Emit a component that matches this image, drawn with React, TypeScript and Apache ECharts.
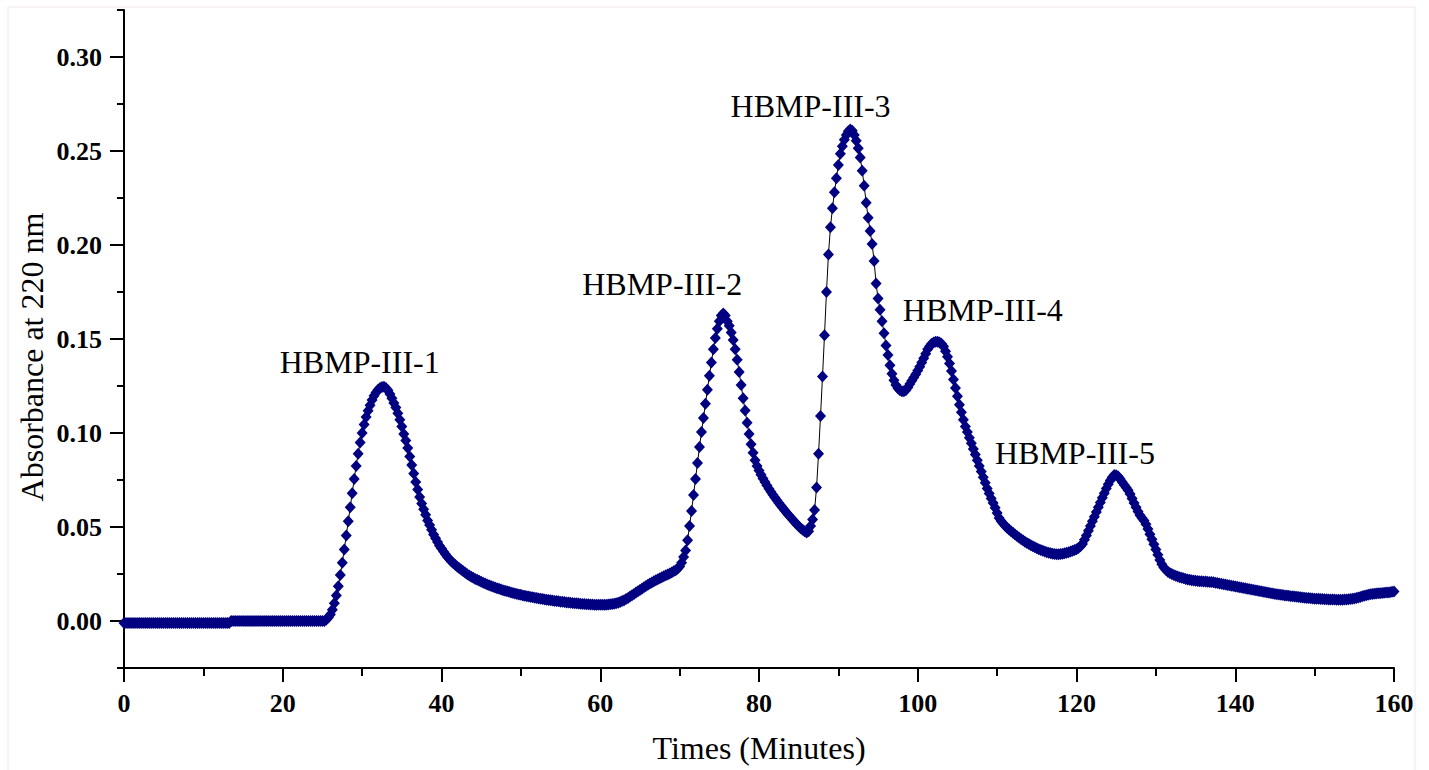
import React, { useEffect, useRef } from "react";
import * as echarts from "echarts";

const FONT = "'Liberation Serif', 'Times New Roman', serif";

// Sampling interval of the chromatogram (minutes)
const SAMPLE_STEP_MIN = 0.25;

// Absorbance at 220 nm, one line per minute (4 samples per minute)
const absorbance: number[] = [
  /*0*/ -0.001, -0.001, -0.001, -0.001,
  /*1*/ -0.001, -0.001, -0.001, -0.001,
  /*2*/ -0.001, -0.001, -0.001, -0.001,
  /*3*/ -0.001, -0.001, -0.001, -0.001,
  /*4*/ -0.001, -0.001, -0.001, -0.001,
  /*5*/ -0.001, -0.001, -0.001, -0.001,
  /*6*/ -0.001, -0.001, -0.001, -0.001,
  /*7*/ -0.001, -0.001, -0.001, -0.001,
  /*8*/ -0.001, -0.001, -0.001, -0.001,
  /*9*/ -0.001, -0.001, -0.001, -0.001,
  /*10*/ -0.001, -0.001, -0.001, -0.001,
  /*11*/ -0.001, -0.001, -0.001, -0.001,
  /*12*/ -0.001, -0.001, -0.001, -0.001,
  /*13*/ -0.001, -0.001, 0.0, 0.0,
  /*14*/ 0.0, 0.0, 0.0, 0.0,
  /*15*/ 0.0, 0.0, 0.0, 0.0,
  /*16*/ 0.0, 0.0, 0.0, 0.0,
  /*17*/ 0.0, 0.0, 0.0, 0.0,
  /*18*/ 0.0, 0.0, 0.0, 0.0,
  /*19*/ 0.0, 0.0, 0.0, 0.0,
  /*20*/ 0.0, 0.0, 0.0, 0.0,
  /*21*/ 0.0, 0.0, 0.0, 0.0,
  /*22*/ 0.0, 0.0, 0.0, 0.0,
  /*23*/ 0.0, 0.0, 0.0, 0.0,
  /*24*/ 0.0, 0.0, 0.0, 0.0,
  /*25*/ 0.0, 0.0, 0.0008, 0.0018,
  /*26*/ 0.0035, 0.006, 0.0095, 0.0135,
  /*27*/ 0.0185, 0.0245, 0.031, 0.038,
  /*28*/ 0.0455, 0.053, 0.0605, 0.068,
  /*29*/ 0.0755, 0.0825, 0.089, 0.095,
  /*30*/ 0.1, 0.1045, 0.1085, 0.1118,
  /*31*/ 0.1148, 0.1175, 0.1198, 0.1216,
  /*32*/ 0.123, 0.124, 0.1245, 0.1246,
  /*33*/ 0.124, 0.1228, 0.1208, 0.1185,
  /*34*/ 0.116, 0.1135, 0.1105, 0.107,
  /*35*/ 0.1035, 0.0995, 0.096, 0.092,
  /*36*/ 0.0875, 0.083, 0.0785, 0.074,
  /*37*/ 0.07, 0.066, 0.0625, 0.0595,
  /*38*/ 0.0565, 0.0535, 0.051, 0.0485,
  /*39*/ 0.046, 0.044, 0.042, 0.04,
  /*40*/ 0.0385, 0.037, 0.0355, 0.034,
  /*41*/ 0.0328, 0.0317, 0.0307, 0.0298,
  /*42*/ 0.0288, 0.028, 0.0272, 0.0264,
  /*43*/ 0.0256, 0.0249, 0.0242, 0.0236,
  /*44*/ 0.023, 0.0224, 0.0219, 0.0214,
  /*45*/ 0.0209, 0.0204, 0.0199, 0.0194,
  /*46*/ 0.019, 0.0186, 0.0182, 0.0178,
  /*47*/ 0.0174, 0.0171, 0.0167, 0.0164,
  /*48*/ 0.0161, 0.0158, 0.0155, 0.0152,
  /*49*/ 0.0149, 0.0146, 0.0144, 0.0141,
  /*50*/ 0.0139, 0.0136, 0.0134, 0.0132,
  /*51*/ 0.013, 0.0128, 0.0126, 0.0124,
  /*52*/ 0.0122, 0.012, 0.0118, 0.0117,
  /*53*/ 0.0115, 0.0113, 0.0112, 0.011,
  /*54*/ 0.0109, 0.0107, 0.0106, 0.0105,
  /*55*/ 0.0103, 0.0102, 0.0101, 0.0099,
  /*56*/ 0.0098, 0.0097, 0.0096, 0.0095,
  /*57*/ 0.0094, 0.0093, 0.0092, 0.0091,
  /*58*/ 0.009, 0.0089, 0.0089, 0.0088,
  /*59*/ 0.0088, 0.0087, 0.0087, 0.0087,
  /*60*/ 0.0087, 0.0087, 0.0087, 0.0087,
  /*61*/ 0.0088, 0.0089, 0.009, 0.0092,
  /*62*/ 0.0094, 0.0097, 0.0101, 0.0106,
  /*63*/ 0.0111, 0.0117, 0.0123, 0.013,
  /*64*/ 0.0137, 0.0144, 0.0151, 0.0158,
  /*65*/ 0.0165, 0.0172, 0.0179, 0.0186,
  /*66*/ 0.0193, 0.0199, 0.0205, 0.0211,
  /*67*/ 0.0217, 0.0222, 0.0228, 0.0233,
  /*68*/ 0.0238, 0.0243, 0.0248, 0.0253,
  /*69*/ 0.0258, 0.0264, 0.027, 0.0278,
  /*70*/ 0.029, 0.031, 0.034, 0.0375,
  /*71*/ 0.043, 0.0505, 0.0585, 0.067,
  /*72*/ 0.0755, 0.084, 0.0925, 0.1005,
  /*73*/ 0.108, 0.1155, 0.123, 0.1305,
  /*74*/ 0.1375, 0.1445, 0.1505, 0.1555,
  /*75*/ 0.1595, 0.1625, 0.1635, 0.1625,
  /*76*/ 0.1595, 0.157, 0.1535, 0.1495,
  /*77*/ 0.1445, 0.139, 0.1325, 0.1255,
  /*78*/ 0.1185, 0.112, 0.1055, 0.0995,
  /*79*/ 0.094, 0.0895, 0.0855, 0.0825,
  /*80*/ 0.08, 0.0778, 0.0758, 0.0739,
  /*81*/ 0.0721, 0.0704, 0.0688, 0.0672,
  /*82*/ 0.0657, 0.0642, 0.0628, 0.0614,
  /*83*/ 0.0601, 0.0588, 0.0575, 0.0562,
  /*84*/ 0.055, 0.0538, 0.0526, 0.0515,
  /*85*/ 0.0504, 0.0494, 0.0485, 0.0477,
  /*86*/ 0.0471, 0.0478, 0.0505, 0.054,
  /*87*/ 0.059, 0.071, 0.089, 0.109,
  /*88*/ 0.13, 0.152, 0.175, 0.195,
  /*89*/ 0.2095, 0.2195, 0.228, 0.2355,
  /*90*/ 0.2425, 0.2485, 0.2525, 0.256,
  /*91*/ 0.2585, 0.2605, 0.2615, 0.2608,
  /*92*/ 0.2585, 0.2555, 0.2515, 0.2465,
  /*93*/ 0.2395, 0.2315, 0.2225, 0.2145,
  /*94*/ 0.2075, 0.2005, 0.1915, 0.1795,
  /*95*/ 0.1715, 0.1655, 0.1595, 0.153,
  /*96*/ 0.1465, 0.1415, 0.136, 0.1315,
  /*97*/ 0.128, 0.1255, 0.1238, 0.1228,
  /*98*/ 0.1222, 0.1222, 0.1228, 0.1242,
  /*99*/ 0.126, 0.1278, 0.1295, 0.1313,
  /*100*/ 0.1332, 0.1352, 0.1375, 0.1398,
  /*101*/ 0.1422, 0.1445, 0.1462, 0.1475,
  /*102*/ 0.1482, 0.1485, 0.1485, 0.1482,
  /*103*/ 0.1475, 0.146, 0.1435, 0.1405,
  /*104*/ 0.137, 0.133, 0.1285, 0.124,
  /*105*/ 0.1195, 0.115, 0.111, 0.107,
  /*106*/ 0.1035, 0.1005, 0.0975, 0.0945,
  /*107*/ 0.0915, 0.0885, 0.0855, 0.0825,
  /*108*/ 0.0795, 0.0765, 0.0735, 0.0705,
  /*109*/ 0.0678, 0.0652, 0.0628, 0.0602,
  /*110*/ 0.0575, 0.0548, 0.0532, 0.0518,
  /*111*/ 0.0506, 0.0496, 0.0487, 0.0478,
  /*112*/ 0.0469, 0.046, 0.0452, 0.0444,
  /*113*/ 0.0436, 0.0429, 0.0422, 0.0415,
  /*114*/ 0.0409, 0.0403, 0.0397, 0.0392,
  /*115*/ 0.0387, 0.0382, 0.0378, 0.0374,
  /*116*/ 0.037, 0.0366, 0.0363, 0.036,
  /*117*/ 0.0358, 0.0356, 0.0355, 0.0355,
  /*118*/ 0.0356, 0.0358, 0.036, 0.0363,
  /*119*/ 0.0366, 0.037, 0.0374, 0.0378,
  /*120*/ 0.0382, 0.0388, 0.0398, 0.041,
  /*121*/ 0.0432, 0.0455, 0.048, 0.0505,
  /*122*/ 0.053, 0.0555, 0.058, 0.0605,
  /*123*/ 0.063, 0.0655, 0.068, 0.0705,
  /*124*/ 0.0728, 0.0748, 0.0765, 0.0776,
  /*125*/ 0.0775, 0.0768, 0.0755, 0.074,
  /*126*/ 0.0725, 0.071, 0.0695, 0.0675,
  /*127*/ 0.0652, 0.0628, 0.0605, 0.0583,
  /*128*/ 0.0562, 0.0548, 0.0535, 0.0515,
  /*129*/ 0.049, 0.0462, 0.0435, 0.0408,
  /*130*/ 0.038, 0.0352, 0.0325, 0.0302,
  /*131*/ 0.0285, 0.0272, 0.0262, 0.0255,
  /*132*/ 0.025, 0.0245, 0.0241, 0.0237,
  /*133*/ 0.0233, 0.023, 0.0227, 0.0224,
  /*134*/ 0.0221, 0.0219, 0.0217, 0.0215,
  /*135*/ 0.0214, 0.0213, 0.0212, 0.0211,
  /*136*/ 0.021, 0.021, 0.0209, 0.0208,
  /*137*/ 0.0207, 0.0206, 0.0204, 0.0202,
  /*138*/ 0.02, 0.0198, 0.0196, 0.0194,
  /*139*/ 0.0192, 0.019, 0.0188, 0.0186,
  /*140*/ 0.0184, 0.0182, 0.018, 0.0178,
  /*141*/ 0.0176, 0.0174, 0.0172, 0.017,
  /*142*/ 0.0168, 0.0166, 0.0164, 0.0162,
  /*143*/ 0.016, 0.0158, 0.0156, 0.0154,
  /*144*/ 0.0152, 0.015, 0.0148, 0.0146,
  /*145*/ 0.0144, 0.0142, 0.0141, 0.0139,
  /*146*/ 0.0138, 0.0136, 0.0135, 0.0134,
  /*147*/ 0.0132, 0.0131, 0.013, 0.0129,
  /*148*/ 0.0127, 0.0126, 0.0125, 0.0124,
  /*149*/ 0.0123, 0.0122, 0.0121, 0.012,
  /*150*/ 0.0119, 0.0119, 0.0118, 0.0117,
  /*151*/ 0.0117, 0.0116, 0.0116, 0.0115,
  /*152*/ 0.0115, 0.0114, 0.0114, 0.0113,
  /*153*/ 0.0113, 0.0113, 0.0113, 0.0114,
  /*154*/ 0.0115, 0.0116, 0.0117, 0.0118,
  /*155*/ 0.012, 0.0122, 0.0125, 0.0128,
  /*156*/ 0.0131, 0.0134, 0.0137, 0.014,
  /*157*/ 0.0142, 0.0144, 0.0145, 0.0146,
  /*158*/ 0.0147, 0.0148, 0.0149, 0.015,
  /*159*/ 0.0151, 0.0152, 0.0153, 0.0155,
  /*160*/ 0.0157,
];

// Peak annotations (position in data units: minutes, absorbance)
const peakNames = ["HBMP-III-1", "HBMP-III-2", "HBMP-III-3", "HBMP-III-4", "HBMP-III-5"];
const peakLabelTimes = [29.7, 67.8, 86.5, 108.2, 119.8];
const peakLabelValues = [0.1378, 0.179, 0.274, 0.1654, 0.0894];

// Axis ticks
const xMin = 0;
const xMax = 160;
const xMajorInterval = 20;
const yMin = -0.025;
const yMax = 0.325;
const yMinorInterval = 0.025;
const yMajorTicks = [0, 0.05, 0.1, 0.15, 0.2, 0.25, 0.3];

const xTitle = "Times (Minutes)";
const yTitle = "Absorbance at 220 nm";

export default function App() {
  const ref = useRef<HTMLDivElement>(null);

  useEffect(() => {
    if (!ref.current) return;
    const chart = echarts.init(ref.current, null, { renderer: "svg" });
    const lineData = absorbance.map((v, i) => [i * SAMPLE_STEP_MIN, v]);
    const axisLineStyle = { color: "#000", width: 2 };

    const baseGraphic: any[] = [
      {
        type: "rect",
        shape: { x: 8, y: 7, width: 1407, height: 770 },
        style: { fill: "none", stroke: "#f4e6e9", lineWidth: 1 },
        silent: true,
        z: -1,
      },
      {
        type: "text",
        x: 32,
        y: 357,
        rotation: Math.PI / 2,
        style: {
          text: yTitle,
          fontFamily: FONT,
          fontSize: 32,
          fill: "#000",
          align: "center",
          verticalAlign: "middle",
        },
        silent: true,
      },
    ];

    chart.setOption({
      animation: false,
      backgroundColor: "#ffffff",
      grid: { left: 124, right: 35, top: 10, bottom: 102, containLabel: false },
      xAxis: {
        type: "value",
        min: xMin,
        max: xMax,
        interval: xMajorInterval,
        axisLine: { show: true, onZero: false, lineStyle: axisLineStyle },
        axisTick: { show: true, inside: false, length: 14, lineStyle: axisLineStyle },
        minorTick: { show: true, splitNumber: 2, length: 8, lineStyle: axisLineStyle },
        splitLine: { show: false },
        minorSplitLine: { show: false },
        axisLabel: {
          fontFamily: FONT,
          fontWeight: "bold",
          fontSize: 26,
          color: "#000",
          margin: 22,
        },
        name: xTitle,
        nameLocation: "middle",
        nameGap: 64,
        nameTextStyle: { fontFamily: FONT, fontSize: 32, color: "#000" },
      },
      yAxis: [
        {
          type: "value",
          position: "left",
          min: yMin,
          max: yMax,
          interval: yMinorInterval,
          axisLine: { show: true, onZero: false, lineStyle: axisLineStyle },
          axisTick: { show: true, length: 7, lineStyle: axisLineStyle },
          splitLine: { show: false },
          axisLabel: {
            customValues: yMajorTicks,
            formatter: (v: number) => v.toFixed(2),
            fontFamily: FONT,
            fontWeight: "bold",
            fontSize: 26,
            color: "#000",
            margin: 22,
          },
        },
        {
          type: "value",
          position: "left",
          min: yMin,
          max: yMax,
          axisLine: { show: false },
          axisTick: { show: true, length: 14, customValues: yMajorTicks, lineStyle: axisLineStyle },
          axisLabel: { show: false },
          splitLine: { show: false },
        },
      ],
      series: [
        {
          type: "line",
          data: lineData,
          xAxisIndex: 0,
          yAxisIndex: 0,
          symbol: "diamond",
          symbolSize: [11, 12],
          showSymbol: true,
          itemStyle: { color: "#000080" },
          lineStyle: { color: "#000", width: 1 },
          silent: true,
        },
      ],
      graphic: baseGraphic,
    });

    // Peak annotations placed at their data coordinates through the chart's own scales
    const labelGraphic = peakNames.map((n, i) => {
      const p = chart.convertToPixel({ xAxisIndex: 0, yAxisIndex: 0 }, [
        peakLabelTimes[i],
        peakLabelValues[i],
      ]) as number[];
      return {
        type: "text",
        x: p[0],
        y: p[1],
        style: {
          text: n,
          fontFamily: FONT,
          fontSize: 32,
          fill: "#000",
          align: "center",
          verticalAlign: "middle",
        },
        silent: true,
        z: 10,
      };
    });
    chart.setOption({ graphic: [...baseGraphic, ...labelGraphic] });

    return () => {
      chart.dispose();
    };
  }, []);

  return (
    <div
      ref={ref}
      style={{ position: "absolute", left: 0, top: 0, width: 1429, height: 770 }}
    />
  );
}
